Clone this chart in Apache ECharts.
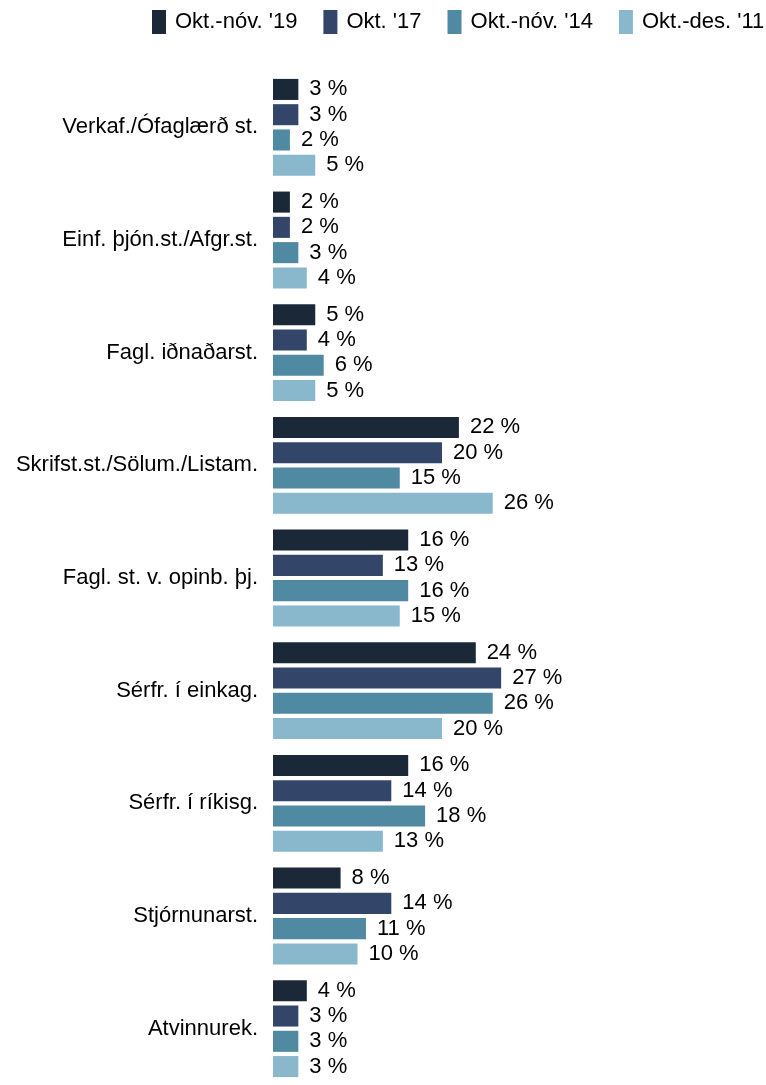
<!DOCTYPE html>
<html>
<head>
<meta charset="utf-8">
<script src="https://cdn.jsdelivr.net/npm/echarts@6/dist/echarts.min.js"></script>
<style>
html,body{margin:0;padding:0;background:#fff;}
#chart{width:766px;height:1085px;}
</style>
</head>
<body>
<div id="chart"></div>
<script>
const categories = [
  "Verkaf./Ófaglærð st.",
  "Einf. þjón.st./Afgr.st.",
  "Fagl. iðnaðarst.",
  "Skrifst.st./Sölum./Listam.",
  "Fagl. st. v. opinb. þj.",
  "Sérfr. í einkag.",
  "Sérfr. í ríkisg.",
  "Stjórnunarst.",
  "Atvinnurek."
];
const seriesNames = ["Okt.-nóv. '19", "Okt. '17", "Okt.-nóv. '14", "Okt.-des. '11"];
const okt19 = [3, 2, 5, 22, 16, 24, 16, 8, 4];
const okt17 = [3, 2, 4, 20, 13, 27, 14, 14, 3];
const okt14 = [2, 3, 6, 15, 16, 26, 18, 11, 3];
const okt11 = [5, 4, 5, 26, 15, 20, 13, 10, 3];
const colors = ["#1a2838", "#33466a", "#4f89a2", "#89b7cc"];

const dataSets = [okt19, okt17, okt14, okt11];
const chart = echarts.init(document.getElementById('chart'), null, {renderer: 'canvas'});
const FONT = 'Liberation Sans, Arial, sans-serif';
chart.setOption({
  animation: false,
  color: colors,
  legend: {
    data: seriesNames,
    left: 152,
    top: 10,
    padding: 0,
    itemWidth: 14,
    itemHeight: 24,
    itemGap: 26,
    icon: 'rect',
    textStyle: {fontFamily: FONT, fontSize: 22, color: '#000', padding: [0, 0, 0, 4]}
  },
  grid: {left: 273, top: 71, width: 253.5, height: 1025, containLabel: false},
  xAxis: {
    type: 'value', min: 0, max: 30, show: false
  },
  yAxis: {
    type: 'category', data: categories, inverse: true,
    axisLine: {show: false}, axisTick: {show: false},
    axisLabel: {fontFamily: FONT, fontSize: 22, color: '#000', margin: 15}
  },
  series: dataSets.map((d, i) => ({
    name: seriesNames[i],
    type: 'bar',
    data: d,
    barGap: '20%',
    barCategoryGap: '14%',
    itemStyle: {color: colors[i]},
    label: {
      show: true, position: 'right', distance: 11,
      fontFamily: FONT, fontSize: 22, color: '#000',
      formatter: p => p.value + ' %'
    }
  }))
});
</script>
</body>
</html>
